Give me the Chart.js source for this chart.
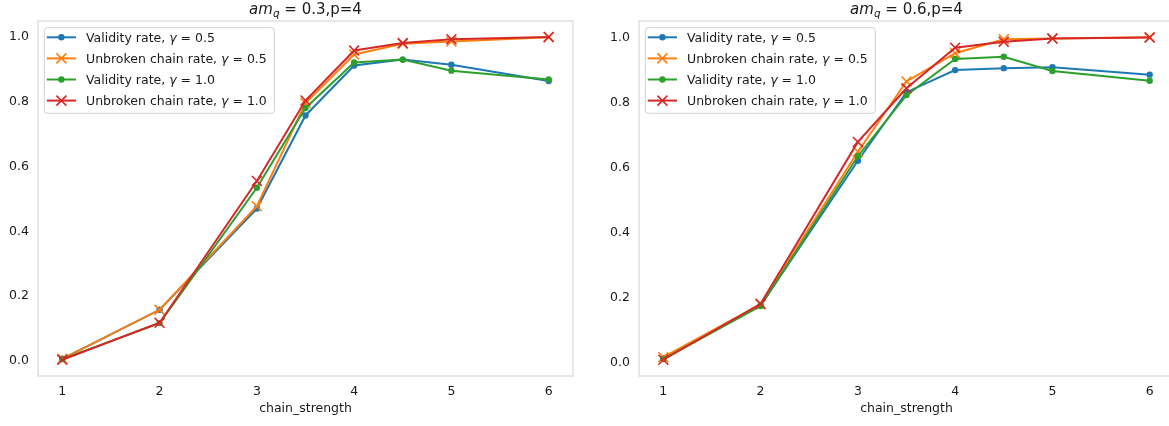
<!DOCTYPE html>
<html>
<head>
<meta charset="utf-8">
<script src="https://cdn.jsdelivr.net/npm/chart.js@4/dist/chart.umd.min.js"></script>
<style>
  html, body { margin: 0; padding: 0; background: #fff; overflow: hidden; }
  body { width: 1169px; height: 426px; position: relative; }
  .panel { position: absolute; top: 0; }
  #left { left: 0; }
  #right { left: 585px; }
</style>
</head>
<body>
<div class="panel" id="left"><canvas id="chartLeft" width="585" height="426"></canvas></div>
<div class="panel" id="right"><canvas id="chartRight" width="600" height="426"></canvas></div>
<script>
const chainStrength = [1, 2, 3, 3.5, 4, 4.5, 5, 6];
const xTicks = [1, 2, 3, 4, 5, 6];
const yTicks = [0, 0.2, 0.4, 0.6, 0.8, 1.0];

const seriesNames = ["Validity rate", "Unbroken chain rate", "Validity rate", "Unbroken chain rate"];
const seriesGammas = ["0.5", "0.5", "1.0", "1.0"];
const seriesColors = ["#1f77b4", "#ff7f0e", "#2ca02c", "#d62728"];
const seriesMarkers = ["circle", "crossRot", "circle", "crossRot"];

// am_q = 0.3
const valid05Left = [0.007, 0.158, 0.470, 0.757, 0.911, 0.929, 0.913, 0.863];
const unbroken05Left = [0.007, 0.158, 0.477, 0.795, 0.945, 0.978, 0.985, 0.998];
const valid10Left = [0.006, 0.117, 0.534, 0.780, 0.920, 0.929, 0.895, 0.868];
const unbroken10Left = [0.004, 0.118, 0.555, 0.803, 0.957, 0.980, 0.992, 0.999];

// am_q = 0.6
const valid05Right = [0.012, 0.175, 0.620, 0.831, 0.899, 0.905, 0.908, 0.885];
const unbroken05Right = [0.016, 0.178, 0.648, 0.864, 0.951, 0.994, 0.996, 1.000];
const valid10Right = [0.010, 0.173, 0.634, 0.822, 0.933, 0.940, 0.896, 0.866];
const unbroken10Right = [0.008, 0.180, 0.678, 0.843, 0.968, 0.986, 0.996, 0.999];

const FONT = "'DejaVu Sans', sans-serif";
const TEXT_COLOR = "#1a1a1a";

function fontStr(size, italic) {
  return (italic ? "oblique " : "") + size + "px " + FONT;
}

function drawParts(ctx, parts, x, y, size, align) {
  let total = 0;
  for (const p of parts) {
    ctx.font = fontStr(p.sub ? size * 0.7 : size, p.it);
    p.w = ctx.measureText(p.t).width;
    total += p.w;
  }
  let cx = align === "center" ? x - total / 2 : x;
  ctx.textAlign = "left";
  ctx.textBaseline = "alphabetic";
  for (const p of parts) {
    ctx.font = fontStr(p.sub ? size * 0.7 : size, p.it);
    ctx.fillText(p.t, cx, p.sub ? y + size * 0.2 : y);
    cx += p.w;
  }
}

function drawMarker(ctx, style, x, y, color) {
  ctx.strokeStyle = color;
  ctx.fillStyle = color;
  if (style === "circle") {
    ctx.beginPath();
    ctx.arc(x, y, 3.2, 0, Math.PI * 2);
    ctx.fill();
  } else {
    const r = 5;
    ctx.lineWidth = 1.6;
    ctx.beginPath();
    ctx.moveTo(x - r, y - r);
    ctx.lineTo(x + r, y + r);
    ctx.moveTo(x - r, y + r);
    ctx.lineTo(x + r, y - r);
    ctx.stroke();
  }
}

function drawLegend(chart) {
  const { ctx, chartArea: a } = chart;
  const x0 = a.left + 6.3, y0 = a.top + 6.7, w = 230, h = 85.6, r = 3;
  ctx.save();
  ctx.beginPath();
  ctx.moveTo(x0 + r, y0);
  ctx.arcTo(x0 + w, y0, x0 + w, y0 + h, r);
  ctx.arcTo(x0 + w, y0 + h, x0, y0 + h, r);
  ctx.arcTo(x0, y0 + h, x0, y0, r);
  ctx.arcTo(x0, y0, x0 + w, y0, r);
  ctx.closePath();
  ctx.fillStyle = "rgba(255,255,255,0.8)";
  ctx.fill();
  ctx.strokeStyle = "#d0d0d0";
  ctx.lineWidth = 1;
  ctx.stroke();

  chart.data.datasets.forEach((ds, i) => {
    const cy = y0 + 9.6 + i * 21.1;
    ctx.strokeStyle = ds.borderColor;
    ctx.lineWidth = 2;
    ctx.beginPath();
    ctx.moveTo(x0 + 2.5, cy);
    ctx.lineTo(x0 + 31.7, cy);
    ctx.stroke();
    drawMarker(ctx, ds.pointStyle, x0 + 17.1, cy, ds.borderColor);
    ctx.fillStyle = TEXT_COLOR;
    drawParts(ctx, [
      { t: seriesNames[i] + ", " },
      { t: "γ", it: true },
      { t: " = " + seriesGammas[i] }
    ], x0 + 41.7, cy + 4.6, 12.5, "left");
  });
  ctx.restore();
}

function drawTitle(chart, amq) {
  const { ctx, chartArea: a } = chart;
  ctx.save();
  ctx.fillStyle = TEXT_COLOR;
  drawParts(ctx, [
    { t: "am", it: true },
    { t: "q", it: true, sub: true },
    { t: " = " + amq },
    { t: ",p=4" }
  ], (a.left + a.right) / 2, 14, 15, "center");
  ctx.restore();
}

const panelPlugin = {
  id: "panel",
  beforeDatasetsDraw(chart) {
    const { ctx, chartArea: a } = chart;
    ctx.save();
    ctx.strokeStyle = "#d9d9d9";
    ctx.lineWidth = 1.25;
    ctx.strokeRect(a.left, a.top, a.right - a.left, a.bottom - a.top);
    ctx.restore();
  },
  afterDatasetsDraw(chart, args, opts) {
    drawTitle(chart, opts.amq);
    drawLegend(chart);
  }
};

function makeDatasets(series) {
  return series.map((values, i) => ({
    label: seriesNames[i] + ", γ = " + seriesGammas[i],
    data: chainStrength.map((x, k) => ({ x, y: values[k] })),
    order: series.length - i,
    borderColor: seriesColors[i],
    backgroundColor: seriesColors[i],
    borderWidth: 2,
    pointStyle: seriesMarkers[i],
    pointRadius: seriesMarkers[i] === "circle" ? 3.2 : 7,
    pointBorderWidth: seriesMarkers[i] === "circle" ? 0 : 1.6,
    tension: 0,
    fill: false
  }));
}

function renderPanel(canvasId, series, amq, opt) {
  return new Chart(document.getElementById(canvasId), {
    type: "line",
    data: { datasets: makeDatasets(series) },
    options: {
      responsive: false,
      animation: false,
      events: [],
      layout: { padding: { left: 0, right: opt.padRight, top: 21, bottom: 0 } },
      plugins: {
        legend: { display: false },
        title: { display: false },
        tooltip: { enabled: false },
        panel: { amq }
      },
      scales: {
        x: {
          type: "linear",
          min: 0.75,
          max: 6.25,
          grid: { display: false, drawTicks: false },
          border: { display: false },
          afterBuildTicks: (s) => { s.ticks = xTicks.map((v) => ({ value: v })); },
          afterFit: (s) => { s.height = 50; },
          ticks: {
            color: TEXT_COLOR,
            font: { family: FONT, size: 12.5 },
            padding: 8,
            maxRotation: 0,
            callback: (v) => String(v)
          },
          title: {
            display: true,
            text: "chain_strength",
            color: TEXT_COLOR,
            font: { family: FONT, size: 12.5 },
            padding: { top: 0, bottom: 10 }
          }
        },
        y: {
          min: opt.yMin,
          max: opt.yMax,
          grid: { display: false, drawTicks: false },
          border: { display: false },
          afterBuildTicks: (s) => { s.ticks = yTicks.map((v) => ({ value: v })); },
          afterFit: (s) => { s.width = opt.yWidth; },
          ticks: {
            color: TEXT_COLOR,
            font: { family: FONT, size: 12.5 },
            padding: 9,
            callback: (v) => v.toFixed(1)
          }
        }
      }
    },
    plugins: [panelPlugin]
  });
}

renderPanel("chartLeft", [valid05Left, unbroken05Left, valid10Left, unbroken10Left], "0.3",
  { padRight: 12, yWidth: 38, yMin: -0.046, yMax: 1.048 });
renderPanel("chartRight", [valid05Right, unbroken05Right, valid10Right, unbroken10Right], "0.6",
  { padRight: 11, yWidth: 54, yMin: -0.042, yMax: 1.05 });
</script>
</body>
</html>
